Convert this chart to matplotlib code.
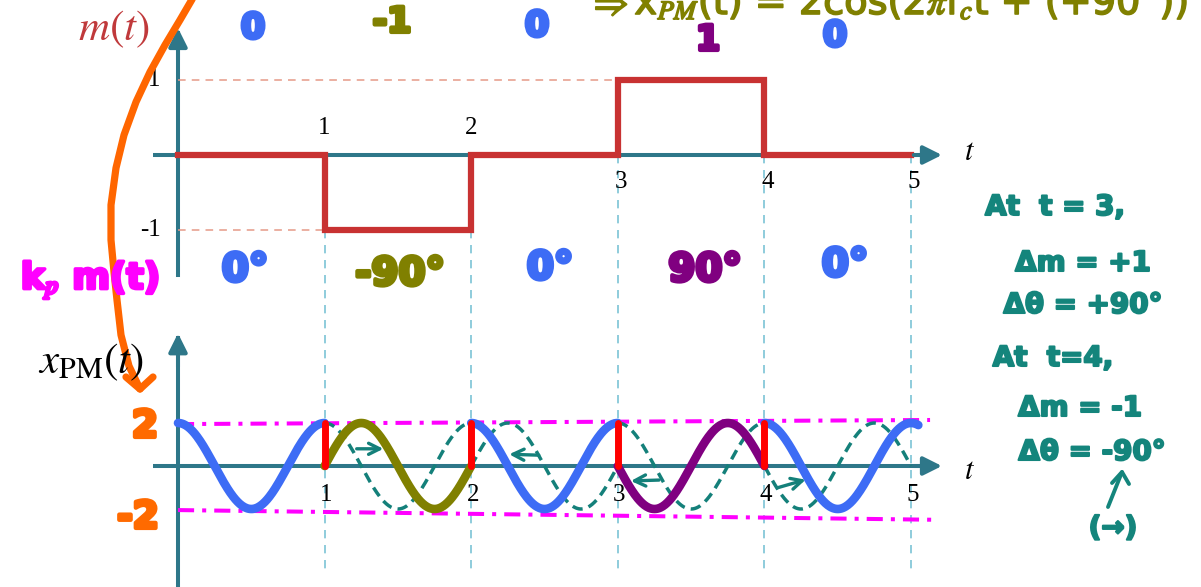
import numpy as np
import matplotlib
matplotlib.use("Agg")
import matplotlib.pyplot as plt
import matplotlib.patheffects as pe
from matplotlib.transforms import Affine2D

# message and phase per unit interval
t_edges = [0, 1, 2, 3, 4, 5]
m_levels = [0, -1, 0, 1, 0]
phase_deg = [0, -90, 0, 90, 0]
amp = 2.0
fc = 1.0
seg_colors = ['#3d6cf5', '#808000', '#3d6cf5', '#800080', '#3d6cf5']
m_notes = ['0', '-1', '0', '1', '0']
phase_notes = ['0°', '-90°', '0°', '90°', '0°']

# hand drawn bits (pixel positions on the page)
orange_stroke = [(194, -4), (180, 20), (165, 45), (150, 72), (136, 102), (124, 135),
                 (116, 168), (111, 205), (111, 240), (114, 272), (117, 300), (121, 335),
                 (129, 366), (140, 389)]
orange_head = [(126, 377), (140, 389), (153, 377)]

W, H = 1201, 587
AX = '#2e7789'

fig = plt.figure(figsize=(W / 100, H / 100), dpi=100)
px = Affine2D().scale(1 / W, -1 / H).translate(0, 1) + fig.transFigure

# pixel -> data mapping: x = 178 + 146.6 t
sx, x0 = 146.6, 178
xlim = (-x0 / sx, (W - x0) / sx)

top = fig.add_axes([0, 0, 1, 1])
top.set_xlim(*xlim)
top.set_ylim((155 - H) / 75, 155 / 75)
top.axis('off')

bot = fig.add_axes([0, 0, 1, 1])
bot.patch.set_alpha(0)
bot.set_xlim(*xlim)
bot.set_ylim((466 - H) / 21.5, 466 / 21.5)
bot.axis('off')

serif = 'Liberation Serif'
plt.rcParams['mathtext.fontset'] = 'stix'

# ---- axes with arrows ----
for ax, ytop, ybot in [(top, 1.73, -1.6), (bot, 6.3, -5.8)]:
    ax.plot([-0.17, 5.1], [0, 0], color=AX, lw=2.9, solid_capstyle='butt')
    ax.annotate('', xy=(5.23, 0), xytext=(5.0, 0),
                arrowprops=dict(arrowstyle='-|>', color=AX, lw=2.9, mutation_scale=28))
    ax.plot([0, 0], [ybot, ytop - 0.1 * (ytop - ybot) / 3.3], color=AX, lw=2.9)
    ax.annotate('', xy=(0, ytop), xytext=(0, ytop - (ytop - ybot) * 0.15),
                arrowprops=dict(arrowstyle='-|>', color=AX, lw=2.9, mutation_scale=28))

# reference dashes
for lev in [1, -1]:
    t_hit = t_edges[m_levels.index(lev)]
    top.plot([0, t_hit], [lev, lev], color='#e59a88', lw=1.1, ls=(0, (5, 4)))
for k, tk in enumerate(t_edges[1:], start=1):
    left = m_levels[k - 1]
    right = m_levels[k] if k < len(m_levels) else 0
    y0 = min(0, left, right)
    top.plot([tk, tk], [y0, (155 - 570) / 75], color='#7cc3d6', lw=1.2, ls=(0, (5, 4)))

# ---- top: m(t) ----
top.step(t_edges, m_levels + [m_levels[-1]], where='post', color='#c83232', lw=4.5,
         solid_joinstyle='miter')

top.text(-0.12, 1, '1', fontsize=18, family=serif, ha='right', va='center')
top.text(-0.12, -1, '-1', fontsize=18, family=serif, ha='right', va='center')
for k in range(1, 6):
    if k <= 2:
        top.text(k, 0.36, str(k), fontsize=18, family=serif, ha='center', va='center')
    else:
        top.text(k + 0.02, -0.36, str(k), fontsize=18, family=serif, ha='center', va='center')
    bot.text(k + 0.01, -1.35, str(k), fontsize=18, family=serif, ha='center', va='center')
top.text(5.4, 0.05, '$t$', fontsize=22, ha='center', va='center')
bot.text(5.4, -0.2, '$t$', fontsize=22, ha='center', va='center')
fig.text(114 / W, 1 - 29 / H, '$m(t)$', fontsize=31, color='#c0393b', ha='center', va='center')
fig.text(91 / W, 1 - 362 / H, r'$x_{\mathrm{PM}}(t)$', fontsize=31, color='black',
         ha='center', va='center')

# ---- bottom: x_PM(t) ----
mag_up = ([0, 5.13], [1.95, 2.14])
mag_dn = ([0, 5.15], [-2.05, -2.5])
for xs, ys in [mag_up, mag_dn]:
    bot.plot(xs, ys, color='#ff00ff', lw=2.9, ls=(0, (4, 2, 1, 2)))

for k in range(1, 5):
    tt = np.linspace(t_edges[k], t_edges[k + 1], 200)
    bot.plot(tt, amp * np.cos(2 * np.pi * fc * tt + np.deg2rad(phase_deg[k - 1])),
             color='#14807a', lw=2.5, ls=(0, (3, 1.8)))

for k in range(5):
    t_end = t_edges[k + 1] + (0.05 if k == 4 else 0)
    tt = np.linspace(t_edges[k], t_end, 200)
    bot.plot(tt, amp * np.cos(2 * np.pi * fc * tt + np.deg2rad(phase_deg[k])),
             color=seg_colors[k], lw=6.2, solid_capstyle='round')

for k in range(1, 5):
    tk = t_edges[k]
    a = amp * np.cos(2 * np.pi * fc * tk + np.deg2rad(phase_deg[k - 1]))
    b = amp * np.cos(2 * np.pi * fc * tk + np.deg2rad(phase_deg[k]))
    bot.plot([tk, tk], [a, b], color='#ff0000', lw=5, solid_capstyle='round')

shift_arrows = [((1.2, 0.8), (1.42, 0.8)), ((2.48, 0.5), (2.24, 0.55)),
                ((3.3, -0.65), (3.07, -0.7)), ((4.07, -1.05), (4.3, -0.6))]
for s, e in shift_arrows:
    bot.annotate('', xy=e, xytext=s,
                 arrowprops=dict(arrowstyle='->', color='#14807a', lw=2.4, mutation_scale=20))

# ---- hand written notes ----
def hand(x, y, s, color, size, stroke=2.2, weight='bold', va='center', ha='center'):
    fig.text(x / W, 1 - y / H, s, color=color, fontsize=size, fontweight=weight,
             ha=ha, va=va,
             path_effects=[pe.withStroke(linewidth=stroke, foreground=color)])

hand(588, 14, r'$\Rightarrow$x$_{PM}$(t) = 2cos(2$\pi$f$_c$t + (+90°))', '#808000', 27.5,
     stroke=1.2, weight='normal', va='baseline', ha='left')

note_x = [253, 392, 537, 708, 835]
note_y = [28, 22, 26, 40, 36]
note_c = ['#3d6cf5', '#808000', '#3d6cf5', '#800080', '#3d6cf5']
for x, y, s, c in zip(note_x, note_y, m_notes, note_c):
    hand(x, y, s, c, 25, stroke=3)
ph_x = [245, 400, 550, 705, 845]
ph_y = [270, 274, 268, 270, 265]
for x, y, s, c in zip(ph_x, ph_y, phase_notes, note_c):
    hand(x, y, s, c, 28, stroke=3)

hand(90, 280, 'k$_p$ m(t)', '#ff00ff', 26, stroke=2.5)
hand(145, 427, '2', '#ff6a00', 27, stroke=3)
hand(138, 518, '-2', '#ff6a00', 27, stroke=3)

teal = '#14857c'
for x, y, s in [(1055, 207, 'At  t = 3,'), (1083, 263, 'Δm = +1'), (1083, 305, 'Δθ = +90°'),
                (1053, 358, 'At  t=4,'), (1080, 408, 'Δm = -1'), (1092, 452, 'Δθ = -90°'),
                (1113, 528, '(→)')]:
    hand(x, y, s, teal, 20, stroke=1.5)
fig.add_artist(plt.Line2D([1108, 1122], [507, 472], transform=px, color=teal, lw=2.8,
                          solid_capstyle='round'))
fig.add_artist(plt.Line2D([1112, 1122, 1129], [483, 472, 484], transform=px, color=teal,
                          lw=2.8, solid_capstyle='round'))

ox, oy = zip(*orange_stroke)
fig.add_artist(plt.Line2D(ox, oy, transform=px, color='#ff6600', lw=5.2,
                          solid_capstyle='round', solid_joinstyle='round'))
hx, hy = zip(*orange_head)
fig.add_artist(plt.Line2D(hx, hy, transform=px, color='#ff6600', lw=5.2,
                          solid_capstyle='round', solid_joinstyle='round'))

fig.savefig('out.png', dpi=100)
